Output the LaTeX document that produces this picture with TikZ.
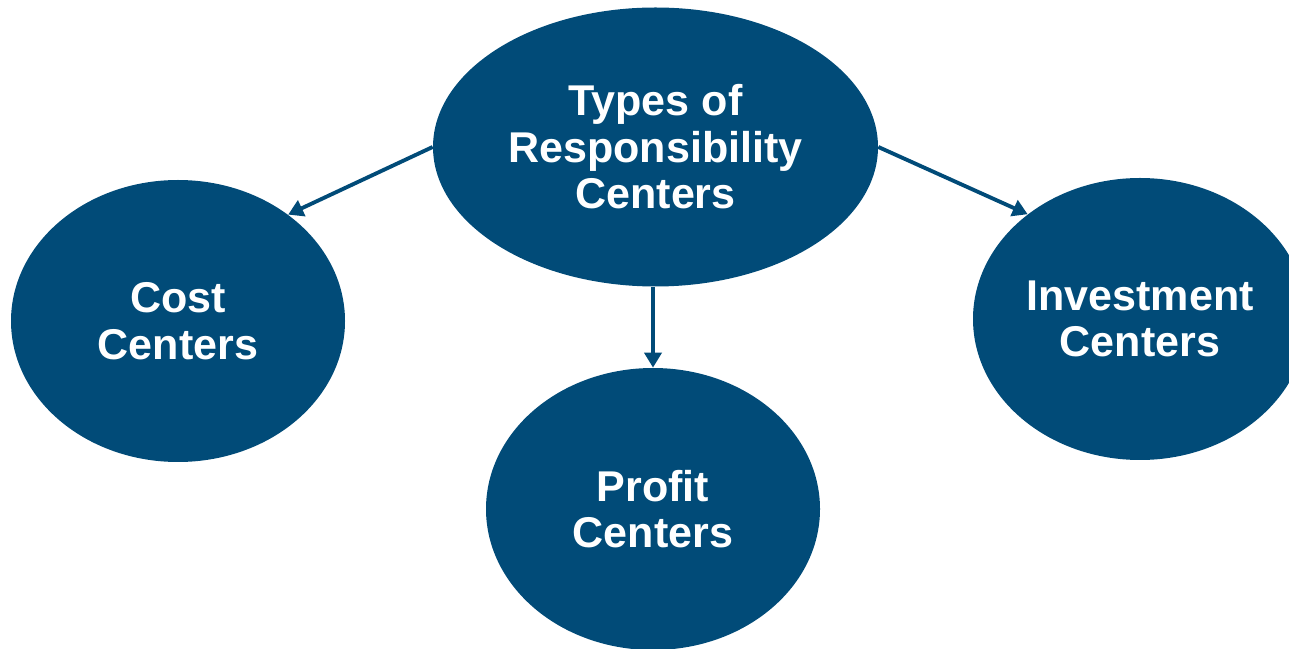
\documentclass[tikz,border=0pt]{standalone}
\usepackage{fontspec}
\setmainfont{Liberation Sans}
\usetikzlibrary{shapes.geometric, arrows.meta}

\definecolor{centerblue}{RGB}{1,75,120}

\begin{document}
\begin{tikzpicture}[
    center/.style={ellipse, fill=centerblue, draw=none, inner sep=0pt,
        minimum width=6.68cm, minimum height=5.64cm, text=white, align=center,
        font=\fontsize{24.5}{26.5}\selectfont\bfseries},
    edge/.style={draw=centerblue, line width=2.2pt,
        -{Triangle[length=0.3cm, width=0.34cm]}}
]
    \useasboundingbox (0,0) rectangle (25.78,12.96);
    \node[center, minimum width=8.9cm, minimum height=5.58cm] (types) at (13.11,10.02)
        {Types of\\Responsibility\\Centers};
    \node[center] (cost) at (3.56,6.54) {Cost\\Centers};
    \node[center] (profit) at (13.06,2.78) {Profit\\Centers};
    \node[center] (invest) at (22.8,6.58) {Investment\\Centers};
    \draw[edge] (types.west) -- (cost.44);
    \draw[edge] (types.south -| profit.north) -- (profit.north);
    \draw[edge] (types.east) -- (invest.137);
\end{tikzpicture}
\end{document}
